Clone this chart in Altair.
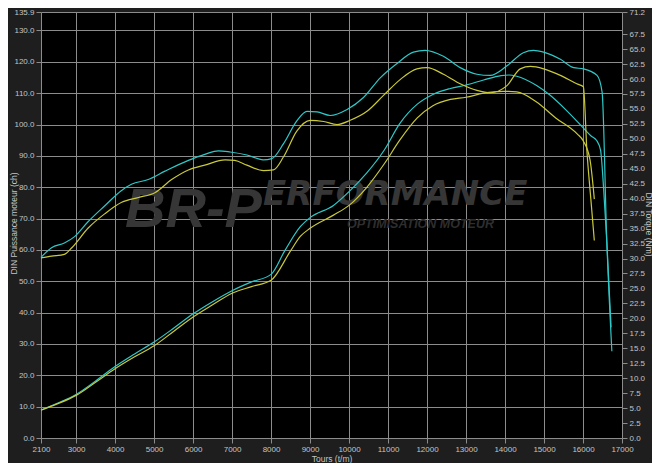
import altair as alt
import pandas as pd

# ---------------- data ----------------
# Cyan run - power (ch)
cp_rpm = [2100, 2500, 3000, 3500, 4000, 4500, 5000, 5500, 6000, 6500, 7000, 7500, 8000, 8350,
          8750, 9000, 9600, 10000, 10450, 10900, 11300, 11750, 12150, 12600, 13000, 13450, 13900,
          14100, 14300, 14800, 15150, 15600, 16000, 16200, 16350, 16450, 16530, 16610, 16720]
cp_val = [8.9, 11.0, 13.9, 18.2, 22.8, 26.8, 30.6, 35.0, 39.6, 43.5, 47.0, 49.8, 52.2, 59.7,
          67.4, 70.3, 74.2, 78.6, 84.5, 91.8, 100.3, 106.5, 109.6, 111.5, 112.6, 114.2, 115.6,
          115.8, 115.4, 112.5, 109.4, 104.2, 99.0, 96.4, 94.9, 91.8, 79.3, 62.8, 35.3]

# Yellow run - power (ch)
yp_rpm = [2100, 2500, 3000, 3500, 4000, 4500, 5000, 5500, 6000, 6500, 7000, 7500, 8000, 8500,
          8750, 9000, 9600, 10000, 10450, 10900, 11300, 11750, 12150, 12600, 13000, 13450, 13950,
          14300, 14800, 15300, 15850, 16000, 16180, 16290]
yp_val = [8.9, 10.8, 13.6, 17.8, 22.1, 25.9, 29.4, 34.0, 38.6, 42.5, 46.2, 48.3, 50.3, 59.7,
          64.3, 66.9, 71.1, 74.2, 79.9, 87.4, 95.0, 102.1, 106.0, 108.0, 108.7, 110.0, 110.6,
          110.4, 107.3, 102.1, 97.0, 94.9, 88.7, 76.2]

# Cyan run - torque (Nm)
ct_rpm = [2100, 2370, 2700, 2970, 3300, 3750, 4150, 4420, 4850, 5280, 5880, 6300, 6650, 6950,
          7380, 7800, 8020, 8320, 8660, 8920, 9180, 9520, 9950, 10370, 10800, 11230, 11650, 11950,
          12420, 12850, 13280, 13620, 14050, 14470, 14730, 14990, 15420, 15760, 16010, 16360,
          16490, 16610, 16740]
ct_val = [30.2, 31.8, 32.6, 33.7, 36.1, 38.9, 41.3, 42.4, 43.2, 44.6, 46.4, 47.4, 48.0, 47.8,
          47.3, 46.5, 46.7, 49.2, 53.0, 54.6, 54.5, 53.9, 54.9, 56.9, 60.2, 62.6, 64.5, 64.8,
          63.8, 61.9, 60.8, 60.6, 62.2, 64.4, 64.8, 64.5, 63.3, 61.9, 61.7, 60.6,
          57.8, 32.9, 14.5]

# Yellow run - torque (Nm)
yt_rpm = [2100, 2370, 2700, 2890, 3310, 3740, 4170, 4600, 5020, 5450, 5880, 6300, 6820, 7070,
          7380, 7810, 8060, 8320, 8660, 9000, 9350, 9690, 10030, 10460, 10890, 11310, 11740, 12000,
          12420, 12850, 13280, 13620, 14050, 14390, 14650, 14990, 15420, 15840, 16010, 16100,
          16200, 16290]
yt_val = [30.1, 30.4, 30.7, 31.8, 35.1, 37.5, 39.4, 40.2, 41.0, 43.2, 44.8, 45.6, 46.5, 46.4,
          45.6, 44.7, 44.8, 47.0, 51.3, 53.1, 52.9, 52.4, 53.1, 54.6, 57.3, 59.9, 61.7, 61.9,
          60.8, 59.2, 58.1, 57.7, 58.9, 61.7, 62.1, 61.7, 60.6, 59.2, 58.7, 48.0,
          40.0, 33.0]

x_ticks = [2100, 3000, 4000, 5000, 6000, 7000, 8000, 9000, 10000, 11000, 12000, 13000,
           14000, 15000, 16000, 17000]
left_ticks = [0, 10, 20, 30, 40, 50, 60, 70, 80, 90, 100, 110, 120, 130, 135.9]
right_ticks = [0, 2.5, 5, 7.5, 10, 12.5, 15, 17.5, 20, 22.5, 25, 27.5, 30, 32.5, 35, 37.5,
               40, 42.5, 45, 47.5, 50, 52.5, 55, 57.5, 60, 62.5, 65, 67.5, 71.2]

series_names = ["Run 1", "Run 2"]
wm_big = ["BR-P"]
wm_rest = ["ERFORMANCE"]
wm_sub = ["OPTIMISATION MOTEUR"]

# ---------------- styling ----------------
CYAN = "#2ec8c8"
YELLOW = "#c9c93a"
BG = "#1e1e1e"
TEXT = "#c4c4c4"
GRID = "#8c8c8c"
WM = "#363636"
WM2 = "#2e2e2e"
FONT = "Liberation Sans"
W, H = 581, 426
PAD = {"left": 33, "top": 4, "right": 30, "bottom": 25}


def frame(rpm, val, name):
    return pd.DataFrame({"rpm": rpm, "v": val, "s": name})


power = pd.concat([frame(cp_rpm, cp_val, series_names[0]),
                   frame(yp_rpm, yp_val, series_names[1])])
torque = pd.concat([frame(ct_rpm, ct_val, series_names[0]),
                    frame(yt_rpm, yt_val, series_names[1])])

x_enc = alt.X("rpm:Q",
              scale=alt.Scale(domain=[2100, 17000], nice=False, zero=False),
              axis=alt.Axis(values=x_ticks, format="d", title="Tours (t/m)",
                            grid=True, labelFlush=False, titleY=23,
                            titleBaseline="alphabetic"))
color = alt.Color("s:N", scale=alt.Scale(domain=series_names, range=[CYAN, YELLOW]),
                  legend=None)

p_layer = alt.Chart(power).mark_line(strokeWidth=1.2, interpolate="monotone").encode(
    x=x_enc,
    y=alt.Y("v:Q",
            scale=alt.Scale(domain=[0, 135.9], nice=False, zero=True),
            axis=alt.Axis(orient="left", values=left_ticks, format=".1f",
                          title="DIN Puissance moteur (ch)", grid=True, labelFlush=False,
                          titleX=-28, titleY=211, titleAngle=-90, titleBaseline="middle")),
    color=color,
    detail="s:N",
)

t_layer = alt.Chart(torque).mark_line(strokeWidth=1.2, interpolate="monotone").encode(
    x=x_enc,
    y=alt.Y("v:Q",
            scale=alt.Scale(domain=[0, 71.2], nice=False, zero=True),
            axis=alt.Axis(orient="right", values=right_ticks, format=".1f",
                          title="DIN Torque (Nm)", grid=False, labelFlush=False,
                          titleX=26, titleY=212, titleAngle=90, titleBaseline="middle")),
    color=color,
    detail="s:N",
)


def wm_text(values, size, x, y, font, col):
    return alt.Chart(pd.DataFrame({"t": values})).mark_text(
        font=font, fontSize=size, fontWeight="bold", fontStyle="italic",
        color=col, align="left", baseline="alphabetic",
    ).encode(text="t:N", x=alt.value(x), y=alt.value(y))


wm1 = wm_text(wm_big, 56, 84, 215, FONT, WM)
wm2 = wm_text(wm_rest, 34, 222, 193, "DejaVu Sans", WM)
wm3 = wm_text(wm_sub, 12.5, 306, 216, FONT, WM2)

chart = alt.layer(wm1, wm2, wm3, p_layer, t_layer).resolve_scale(y="independent").properties(
    width=W, height=H,
    autosize=alt.AutoSizeParams(type="none"),
    padding=PAD,
    background=BG,
).configure_view(
    fill="#000000", stroke=None
).configure_axis(
    labelColor=TEXT, titleColor=TEXT, tickColor=GRID, gridColor=GRID,
    gridOpacity=1, gridWidth=1, domain=False, labelFont=FONT, titleFont=FONT,
    labelFontSize=8, titleFontSize=8.5, titleFontWeight="normal", tickSize=5,
    labelPadding=2,
)

chart.save("out.html", embed_options={"renderer": "svg", "actions": False})
